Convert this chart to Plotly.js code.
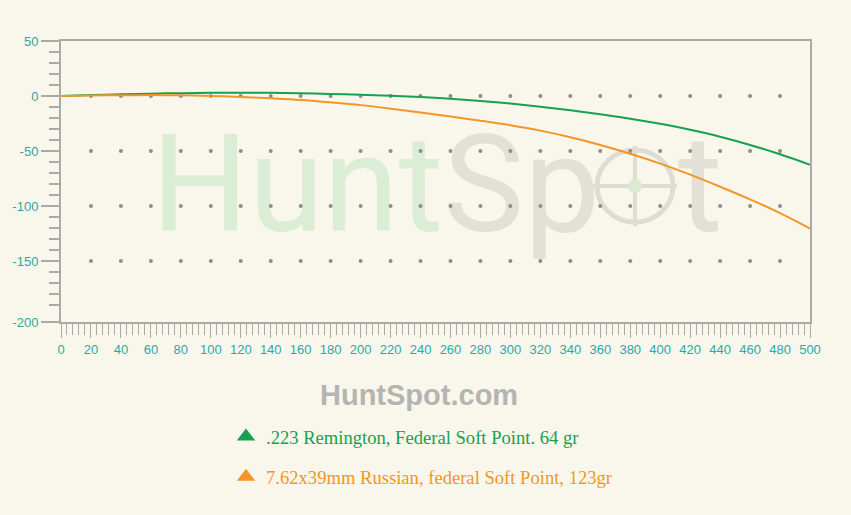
<!DOCTYPE html>
<html>
<head>
<meta charset="utf-8">
<script src="https://cdn.plot.ly/plotly-3.0.1.min.js"></script>
<style>
  html, body { margin: 0; padding: 0; background: #f9f7eb; }
  #chart { width: 851px; height: 515px; }
</style>
</head>
<body>
<div id="chart"></div>
<script>
// ---- data ----
const distance = [0, 20, 40, 60, 80, 100, 120, 140, 160, 180, 200, 220, 240, 260, 280, 300, 320, 340, 360, 380, 400, 420, 440, 460, 480, 500];
const rem223 = [0, 0.8, 1.5, 2.1, 2.6, 2.9, 3.0, 2.9, 2.5, 1.9, 1.1, 0.2, -0.9, -2.5, -4.5, -6.9, -9.7, -12.9, -16.5, -20.6, -25.3, -30.7, -37.0, -44.5, -53.0, -62.5];
const russian762 = [0, 0.4, 0.7, 0.8, 0.6, 0.0, -0.9, -2.1, -3.6, -5.8, -8.3, -11.5, -15.0, -18.7, -22.5, -26.6, -31.5, -37.5, -44.5, -52.5, -61.5, -71.5, -82.5, -94.0, -106.5, -120.5];
const seriesNames = ['.223 Remington, Federal Soft Point. 64 gr', '7.62x39mm Russian, federal Soft Point, 123gr'];
const yTickValues = [50, 0, -50, -100, -150, -205.5];
const yTickLabels = ['50', '0', '-50', '-100', '-150', '-200'];
const gridDotX = [20, 40, 60, 80, 100, 120, 140, 160, 180, 200, 220, 240, 260, 280, 300, 320, 340, 360, 380, 400, 420, 440, 460, 480];
const gridDotY = [0, -50, -100, -150];

// ---- style ----
const BG = '#f9f7eb';
const GREEN = '#17a050';
const ORANGE = '#f39528';
const AXIS = '#aaaaaa';
const TICKTEXT = '#2aa8a8';

// grid intersection dots
const dotX = [], dotY = [];
gridDotY.forEach(function (yv) { gridDotX.forEach(function (xv) { dotX.push(xv); dotY.push(yv); }); });

// minor y ticks every 10 between labelled ticks
const yMinor = [];
for (let v = 40; v >= -190; v -= 10) { if (v % 50 !== 0) yMinor.push(v); }

// plot area in pixels (for decorative watermark shapes)
const L = 61, R = 810, T = 41, B = 322;
function px(x) { return (x - L) / (R - L); }
function py(y) { return (B - y) / (B - T); }

const WM_X = 251, WM_Y = -92;

const traces = [
  { x: [WM_X], y: [WM_Y], mode: 'text', showlegend: false, hoverinfo: 'skip',
    text: ['<span style="color:#dcedd5">Hunt</span><span style="color:#e3e1d7">Sp</span><span style="color:rgba(0,0,0,0)">o</span><span style="color:#e3e1d7">t</span>'],
    textposition: 'middle center',
    textfont: { family: 'Roboto', size: 136, weight: 400 } },
  { x: dotX, y: dotY, mode: 'markers', showlegend: false, hoverinfo: 'skip',
    marker: { color: '#8d8d8a', size: 4 } },
  { x: distance, y: rem223, mode: 'lines', showlegend: false, name: seriesNames[0],
    line: { color: GREEN, width: 2, shape: 'spline' } },
  { x: distance, y: russian762, mode: 'lines', showlegend: false, name: seriesNames[1],
    line: { color: ORANGE, width: 2, shape: 'spline' } },
  { x: [null], y: [null], mode: 'markers', legendgroup: 'a',
    name: '<span style="color:' + GREEN + '">' + seriesNames[0] + '</span>',
    marker: { symbol: 'triangle-up', size: 22, color: GREEN } },
  { x: [null], y: [null], mode: 'markers', legendgroup: 'b',
    name: '<span style="color:' + ORANGE + '">' + seriesNames[1] + '</span>',
    marker: { symbol: 'triangle-up', size: 22, color: ORANGE } }
];

const crossColor = '#dfddd3';
const cx = 635, cy = 186;

const layout = {
  width: 851, height: 515,
  paper_bgcolor: BG, plot_bgcolor: BG,
  margin: { l: L, r: 851 - R, t: T, b: 515 - B, pad: 0 },
  font: { family: 'Arial, Liberation Sans, sans-serif', size: 13, color: TICKTEXT },
  showlegend: true,
  legend: { x: px(226), xanchor: 'left', y: py(418), yanchor: 'top',
    font: { family: 'Liberation Serif, Times New Roman, serif', size: 18.6 },
    bgcolor: 'rgba(0,0,0,0)', tracegroupgap: 13, traceorder: 'grouped' },
  xaxis: {
    range: [0, 500], dtick: 20, tick0: 0,
    showgrid: false, zeroline: false,
    showline: true, linecolor: AXIS, linewidth: 2, mirror: true,
    ticks: 'outside', ticklen: 14, tickwidth: 1, tickcolor: AXIS,
    minor: { dtick: 4, ticklen: 11, tickwidth: 1, tickcolor: AXIS, ticks: 'outside', showgrid: false },
    tickfont: { color: TICKTEXT, size: 13 }, fixedrange: true
  },
  yaxis: {
    range: [-205.5, 50], tickmode: 'array', tickvals: yTickValues, ticktext: yTickLabels,
    showgrid: false, zeroline: false,
    showline: true, linecolor: AXIS, linewidth: 2, mirror: true,
    ticks: 'outside', ticklen: 18, tickwidth: 2, tickcolor: AXIS,
    minor: { tickmode: 'array', tickvals: yMinor, ticklen: 10, tickwidth: 2, tickcolor: AXIS, ticks: 'outside', showgrid: false },
    tickfont: { color: TICKTEXT, size: 13 }, fixedrange: true
  },
  shapes: [
    { type: 'circle', xref: 'paper', yref: 'paper', layer: 'below',
      x0: px(cx - 38), x1: px(cx + 38), y0: py(cy + 36), y1: py(cy - 36),
      line: { color: crossColor, width: 5 } },
    { type: 'line', xref: 'paper', yref: 'paper', layer: 'below',
      x0: px(cx - 42), x1: px(cx + 42), y0: py(cy), y1: py(cy),
      line: { color: crossColor, width: 4 } },
    { type: 'line', xref: 'paper', yref: 'paper', layer: 'below',
      x0: px(cx), x1: px(cx), y0: py(cy - 40), y1: py(cy + 40),
      line: { color: crossColor, width: 4 } },
    { type: 'circle', xref: 'paper', yref: 'paper', layer: 'below',
      x0: px(cx - 7), x1: px(cx + 7), y0: py(cy + 7), y1: py(cy - 7),
      fillcolor: '#d9ebd0', line: { width: 0 } }
  ],
  annotations: [
    { text: '<b>HuntSpot.com</b>', xref: 'paper', yref: 'paper',
      x: px(419), y: py(395), xanchor: 'center', yanchor: 'middle', showarrow: false,
      font: { family: 'Arial, Liberation Sans, sans-serif', size: 29, color: '#b4b4b2' } }
  ]
};

Plotly.newPlot('chart', traces, layout, { displayModeBar: false, staticPlot: true });
</script>
</body>
</html>
